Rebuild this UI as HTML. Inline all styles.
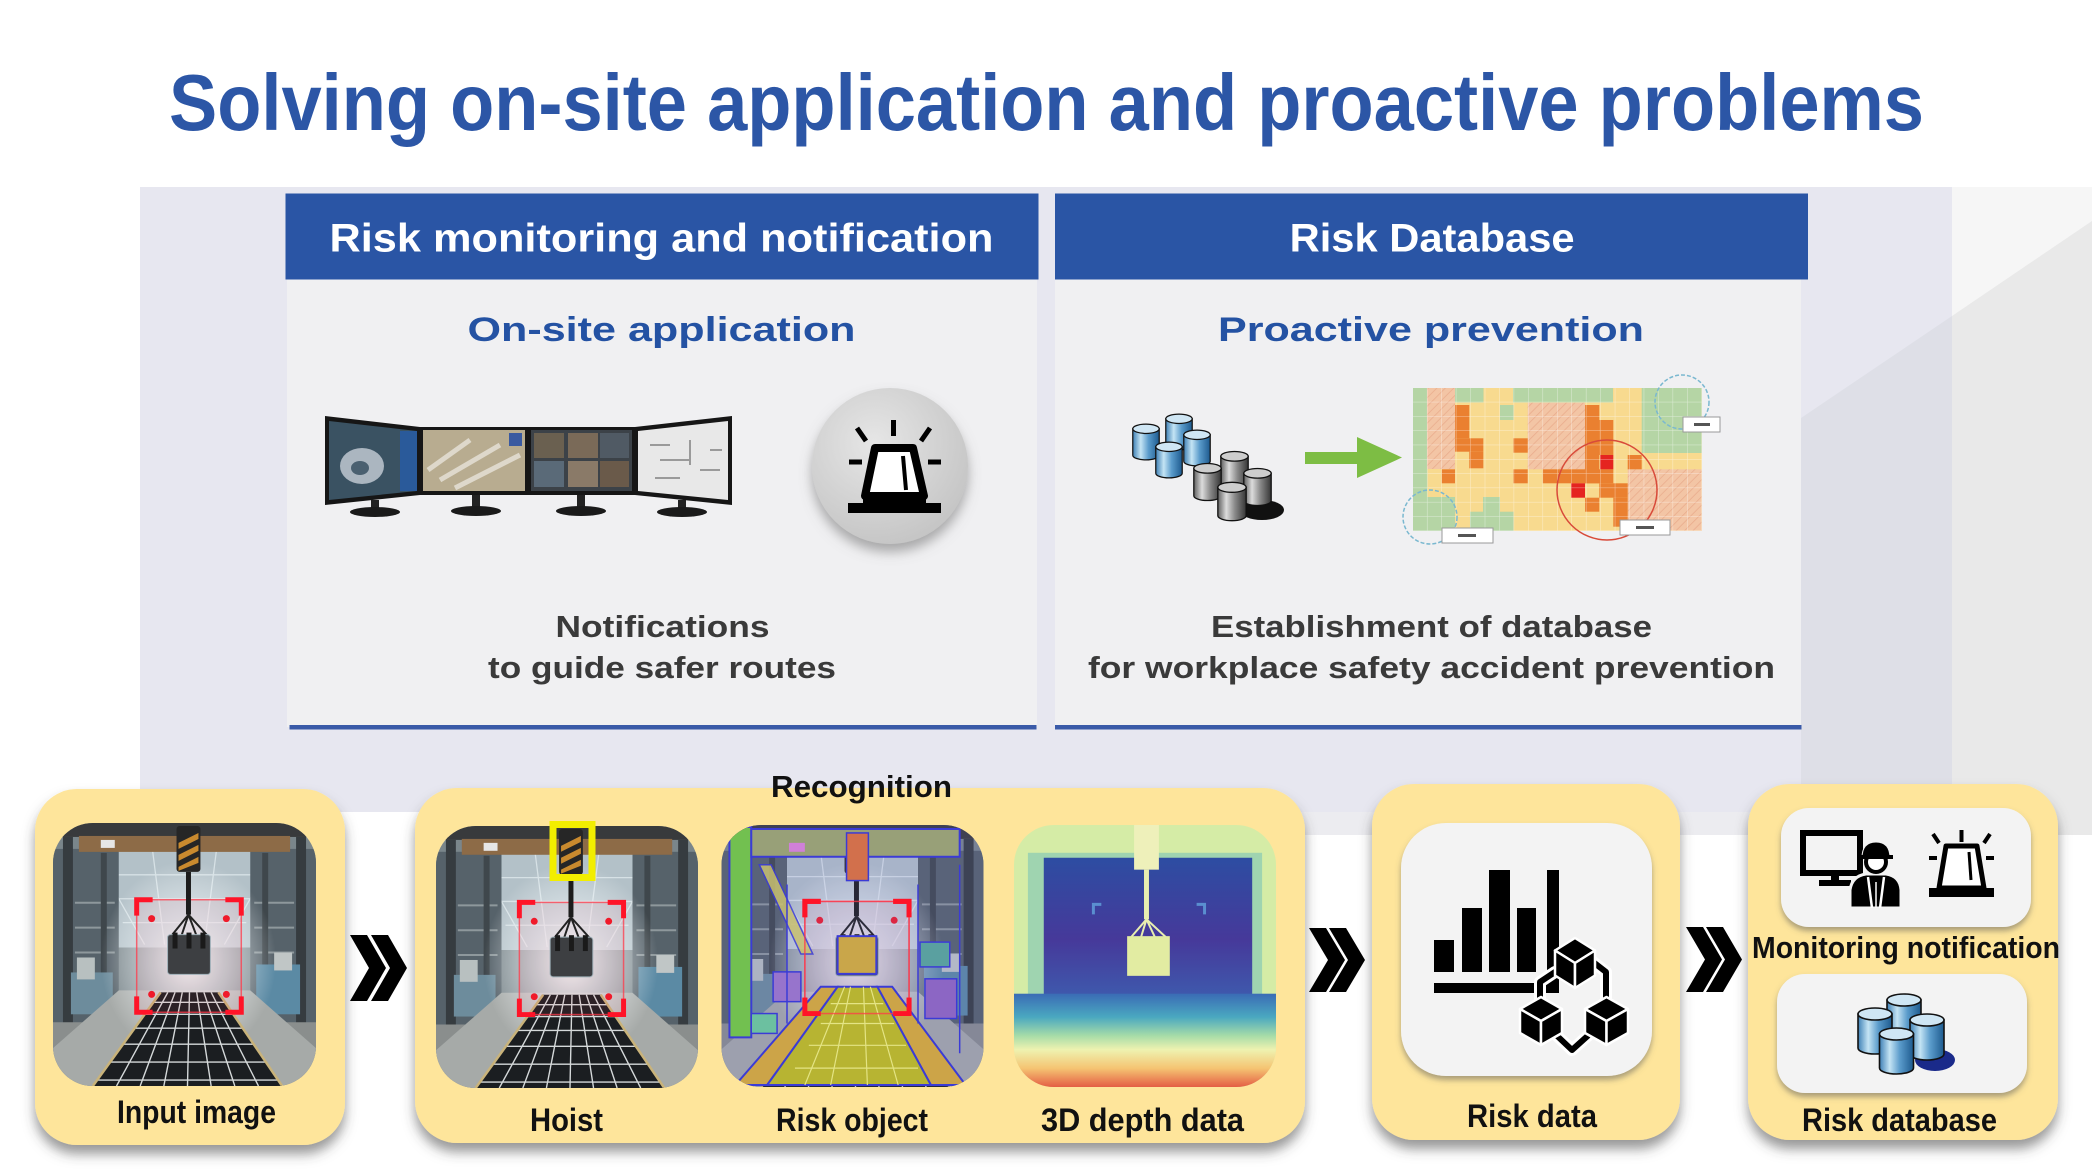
<!DOCTYPE html>
<html><head><meta charset="utf-8"><style>
html,body{margin:0;padding:0;background:#fff;}
svg{display:block;}
text{font-family:"Liberation Sans",Arial,sans-serif;font-weight:bold;}
</style></head><body>
<svg width="2092" height="1175" viewBox="0 0 2092 1175" xmlns="http://www.w3.org/2000/svg">
<defs>
<filter id="sh" x="-10%" y="-10%" width="120%" height="130%"><feDropShadow dx="0" dy="9" stdDeviation="6" flood-color="#444" flood-opacity="0.55"/></filter>
<filter id="sh2" x="-10%" y="-10%" width="120%" height="130%"><feDropShadow dx="0" dy="4" stdDeviation="3" flood-color="#555" flood-opacity="0.5"/></filter>
<filter id="sh3" x="-20%" y="-20%" width="140%" height="150%"><feDropShadow dx="0" dy="8" stdDeviation="6" flood-color="#777" flood-opacity="0.6"/></filter>
<radialGradient id="glow" cx="0.5" cy="0.5" r="0.5">
<stop offset="0" stop-color="#ffffff" stop-opacity="0.95"/>
<stop offset="0.45" stop-color="#eef6fa" stop-opacity="0.6"/>
<stop offset="1" stop-color="#ffffff" stop-opacity="0"/>
</radialGradient>
<radialGradient id="alarmg" cx="0.4" cy="0.35" r="0.7">
<stop offset="0" stop-color="#e6e6e6"/><stop offset="1" stop-color="#c4c4c4"/>
</radialGradient>
<linearGradient id="dinner" x1="0" y1="0" x2="0" y2="1">
<stop offset="0" stop-color="#2d4da2"/><stop offset="0.55" stop-color="#46399a"/><stop offset="1" stop-color="#3d5fb0"/>
</linearGradient>
<linearGradient id="dbottom" x1="0" y1="0" x2="0" y2="1">
<stop offset="0" stop-color="#3a6cb5"/><stop offset="0.25" stop-color="#4aa8c0"/><stop offset="0.45" stop-color="#a6dca8"/><stop offset="0.6" stop-color="#eef2b0"/><stop offset="0.8" stop-color="#f5c472"/><stop offset="1" stop-color="#e45e44"/>
</linearGradient>
<linearGradient id="gB" x1="0" y1="0" x2="1" y2="0">
<stop offset="0" stop-color="#3d7fb5"/><stop offset="0.3" stop-color="#c4e4f4"/><stop offset="0.6" stop-color="#5a9bcb"/><stop offset="1" stop-color="#1d5a8e"/>
</linearGradient>
<linearGradient id="gG" x1="0" y1="0" x2="1" y2="0">
<stop offset="0" stop-color="#5e5e5e"/><stop offset="0.3" stop-color="#dcdcdc"/><stop offset="0.6" stop-color="#8a8a8a"/><stop offset="1" stop-color="#353535"/>
</linearGradient>
<symbol id="cylB" viewBox="0 0 36 48"><path d="M1,7 V41 A17,6 0 0 0 35,41 V7 Z" fill="url(#gB)" stroke="#111" stroke-width="1.6"/><ellipse cx="18" cy="7" rx="17" ry="6" fill="#cfe6f4" stroke="#111" stroke-width="1.6"/></symbol>
<symbol id="cylG" viewBox="0 0 36 48"><path d="M1,7 V41 A17,6 0 0 0 35,41 V7 Z" fill="url(#gG)" stroke="#111" stroke-width="1.6"/><ellipse cx="18" cy="7" rx="17" ry="6" fill="#cdcdcd" stroke="#111" stroke-width="1.6"/></symbol>
<pattern id="hatch" width="6" height="6" patternUnits="userSpaceOnUse" patternTransform="rotate(45)"><rect width="6" height="6" fill="#f3c5a5"/><line x1="0" y1="0" x2="0" y2="6" stroke="#e9ab8c" stroke-width="1.5"/></pattern>
<pattern id="hgrid" x="1413" y="388" width="14.45" height="14.3" patternUnits="userSpaceOnUse"><path d="M14.45 0V14.3H0" fill="none" stroke="#fff" stroke-opacity=".55" stroke-width="1"/></pattern>
<clipPath id="cr"><rect width="264" height="264" rx="40"/></clipPath>

<g id="facg">
<rect width="264" height="264" fill="#7a868b"/>
<polygon points="20,28 244,28 200,125 64,125" fill="#b3c1c8"/>
<path d="M40,30 L92,122 M224,30 L172,122 M52,52 H212 M62,76 H202 M70,100 H194 M100,28 L112,122 M164,28 L152,122" stroke="#dfe8ec" stroke-width="1.3" opacity=".8" fill="none"/>
<rect x="0" y="26" width="66" height="190" fill="#56626a"/>
<rect x="198" y="26" width="66" height="190" fill="#56626a"/>
<path d="M22,80 H62 M22,105 H62 M22,130 H62 M202,80 H242 M202,105 H242 M202,130 H242" stroke="#8e989c" stroke-width="2"/>
<rect x="10" y="14" width="10" height="200" fill="#363c40"/>
<rect x="244" y="14" width="10" height="200" fill="#363c40"/>
<rect x="48" y="30" width="6" height="170" fill="#3f474c"/>
<rect x="210" y="30" width="6" height="170" fill="#3f474c"/>
<rect x="18" y="150" width="42" height="42" fill="#6d8c9c"/>
<rect x="24" y="135" width="18" height="22" fill="#b8c0c0"/>
<rect x="204" y="142" width="44" height="50" fill="#5b8aa4"/>
<rect x="222" y="130" width="18" height="18" fill="#c0c6c6"/>
<rect x="0" y="0" width="264" height="14" fill="#383a3c"/>
<rect x="26" y="13" width="212" height="16" fill="#8d6b47"/>
<rect x="48" y="17" width="14" height="8" fill="#e6e6e6"/>
<polygon points="0,200 264,200 264,264 0,264" fill="#8a8e8d"/>
<polygon points="66,168 198,168 264,226 264,264 0,264 0,226" fill="#a6aaa8"/>
<ellipse cx="136" cy="138" rx="88" ry="100" fill="url(#glow)"/>
<polygon points="108,170 166,170 230,264 40,264" fill="#1b1e21"/>
<path d="M100.8,180 H172.8 M92.1,192 H181 M82,206 H190.5 M70.4,222 H201.4 M57.4,240 H213.7 M44.3,258 H225.9 M115.25,170 L63.75,264 M122.5,170 L87.5,264 M129.75,170 L111.25,264 M137,170 L135,264 M144.25,170 L158.75,264 M151.5,170 L182.5,264 M158.75,170 L206.25,264" stroke="#d5d9da" stroke-width="1.4"/>
<path d="M108,170 L40,264 M166,170 L230,264" stroke="#c9b37a" stroke-width="2.5"/>
<rect x="84" y="77" width="105" height="113" fill="#ff5060" fill-opacity=".08" stroke="#ff3a4a" stroke-width="1.5" stroke-opacity=".75"/>
<path d="M84,93 V77 H100 M173,77 H189 V93 M84,174 V190 H100 M173,190 H189 V174" stroke="#ff1428" stroke-width="5" fill="none"/>
<circle cx="99" cy="96" r="3.5" fill="#f01a2a"/><circle cx="174" cy="96" r="3.5" fill="#f01a2a"/>
<circle cx="99" cy="172" r="3.5" fill="#f01a2a"/><circle cx="174" cy="172" r="3.5" fill="#f01a2a"/>
<rect x="124" y="3" width="24" height="46" rx="3" fill="#262626"/>
<path d="M126,20 L146,10 V16 L126,26Z M126,32 L146,22 V28 L126,38Z M126,44 L146,34 V40 L126,48Z" fill="#c98a2e"/>
<line x1="136" y1="49" x2="136" y2="92" stroke="#1c1c1c" stroke-width="5"/>
<path d="M136,92 L119,113 M136,92 L129,113 M136,92 L144,113 M136,92 L155,113" stroke="#222" stroke-width="2"/>
<rect x="115" y="112" width="43" height="40" rx="3" fill="#3d3f42" stroke="#9fb0b8" stroke-width="1"/>
<rect x="120" y="110" width="5" height="16" fill="#1a1a1a"/><rect x="134" y="110" width="5" height="16" fill="#1a1a1a"/><rect x="148" y="110" width="5" height="16" fill="#1a1a1a"/>
</g>
</defs>
<symbol id="fac" viewBox="0 0 264 264"><g clip-path="url(#cr)"><use href="#facg"/></g></symbol>
<symbol id="seg" viewBox="0 0 264 264"><g clip-path="url(#cr)">
<use href="#facg"/>
<rect width="264" height="264" fill="#6a6ad0" opacity=".15"/>
<rect x="8" y="2" width="22" height="212" fill="#72c050" stroke="#3b3bd6" stroke-width="2"/>
<rect x="30" y="4" width="210" height="28" fill="#98a078" stroke="#3b3bd6" stroke-width="2"/>
<rect x="68" y="18" width="16" height="9" fill="#d080d8"/>
<polygon points="38,40 50,40 92,130 80,130" fill="#c8c070" opacity=".85" stroke="#3b3bd6" stroke-width="1.5"/>
<rect x="126" y="8" width="22" height="48" fill="#d2704c" stroke="#3b3bd6" stroke-width="1.5"/>
<polygon points="100,163 117,163 46,262 14,262" fill="#cca448" stroke="#3b3bd6" stroke-width="2"/>
<polygon points="157,163 172,163 246,262 211,262" fill="#cca448" stroke="#3b3bd6" stroke-width="2"/>
<polygon points="117,163 157,163 211,262 46,262" fill="#b7b432" stroke="#3b3bd6" stroke-width="2"/>
<path d="M110,180 H163 M100,200 H174 M88,222 H186 M74,245 H198 M130,163 L110,262 M143,163 L147,262 M124,163 L84,262 M150,163 L178,262" stroke="#e4e484" stroke-width="1.2"/>
<rect x="117" y="112" width="39" height="38" fill="#c9a64a" stroke="#3b3bd6" stroke-width="2"/>
<rect x="52" y="148" width="28" height="30" fill="#9774cc" stroke="#3b3bd6" stroke-width="1.5"/>
<rect x="205" y="155" width="32" height="40" fill="#8c66c4" stroke="#3b3bd6" stroke-width="1.5"/>
<rect x="200" y="118" width="30" height="25" fill="#5aa0a0" stroke="#3b3bd6" stroke-width="1.5"/>
<rect x="30" y="190" width="26" height="20" fill="#6cc0a0" stroke="#3b3bd6" stroke-width="1.5"/>
<path d="M30,40 V200 M240,40 V230 M66,60 L66,200 M198,60 L198,200" stroke="#3b3bd6" stroke-width="1.5" fill="none"/>
<rect x="84" y="77" width="105" height="113" fill="none" stroke="#ff3a4a" stroke-width="1.5" stroke-opacity=".75"/>
<path d="M84,93 V77 H100 M173,77 H189 V93 M84,174 V190 H100 M173,190 H189 V174" stroke="#ff1428" stroke-width="5" fill="none"/>
</g></symbol>
<symbol id="depth" viewBox="0 0 264 264"><g clip-path="url(#cr)">
<rect width="264" height="264" fill="#d5eca6"/>
<rect x="14" y="28" width="236" height="160" fill="#7cc4b8" opacity=".6"/>
<rect x="30" y="33" width="210" height="150" fill="url(#dinner)"/>
<rect x="0" y="170" width="264" height="94" fill="url(#dbottom)"/>
<rect x="121" y="0" width="25" height="45" fill="#eef0ba"/>
<line x1="133.5" y1="45" x2="133.5" y2="95" stroke="#e8eeb0" stroke-width="5"/>
<path d="M133.5,95 L118,113 M133.5,95 L128,113 M133.5,95 L142,113 M133.5,95 L153,113" stroke="#e8eeb0" stroke-width="2"/>
<rect x="114" y="112" width="43" height="40" fill="#e2eca2"/>
<path d="M80,90 V80 H88 M184,80 H192 V90" stroke="#5a8fd0" stroke-width="3" fill="none"/>
</g></symbol>

<rect width="2092" height="1175" fill="#fff"/>

<!-- background panels -->
<rect x="1952" y="187" width="140" height="648" fill="#f6f6f6"/>
<polygon points="1952,316 2092,221 2092,835 1952,835" fill="#e9e9e9"/>
<rect x="1290" y="800" width="662" height="35" fill="#ececf0"/>
<rect x="140" y="187" width="1812" height="625" fill="#e7e7f0"/>
<polygon points="1801,418 1952,316 1952,812 1801,812" fill="#dedfe7"/>

<!-- title -->
<text x="169" y="130" font-size="80" fill="#2c56a6" textLength="1755" lengthAdjust="spacingAndGlyphs">Solving on-site application and proactive problems</text>

<!-- left card -->
<rect x="287" y="279" width="750" height="448" fill="#f0f0f2"/>
<rect x="285.5" y="193.5" width="753" height="86" fill="#2a55a5"/>
<rect x="289.5" y="725" width="747" height="4.5" fill="#3a5aa8"/>
<text x="329.5" y="251.4" font-size="40" fill="#fff" textLength="664" lengthAdjust="spacingAndGlyphs">Risk monitoring and notification</text>
<text x="467.5" y="341" font-size="34" fill="#2452a3" textLength="388" lengthAdjust="spacingAndGlyphs">On-site application</text>
<text x="555.5" y="637" font-size="31" fill="#3a3a3a" textLength="214" lengthAdjust="spacingAndGlyphs">Notifications</text>
<text x="488" y="678" font-size="31" fill="#3a3a3a" textLength="348" lengthAdjust="spacingAndGlyphs">to guide safer routes</text>

<!-- monitors -->
<g>
<polygon points="325,416 420,427 420,495 325,505" fill="#161616"/>
<polygon points="329,421 417,431 417,491 329,500" fill="#3a5262"/>
<ellipse cx="362" cy="466" rx="22" ry="18" fill="#c8d0d8" opacity=".8"/>
<ellipse cx="360" cy="468" rx="9" ry="7" fill="#4a6070"/>
<rect x="400" y="431" width="17" height="60" fill="#2a5a9a"/>
<rect x="420" y="427" width="108" height="68" fill="#161616"/>
<rect x="423" y="430" width="102" height="61" fill="#b8ac90"/>
<path d="M428,470 L470,440 M440,480 L500,445 M455,488 L520,455" stroke="#e8e4da" stroke-width="5" opacity=".8"/>
<rect x="509" y="433" width="13" height="13" fill="#3a5aa0"/>
<rect x="528" y="427" width="107" height="68" fill="#161616"/>
<rect x="531" y="430" width="101" height="61" fill="#3c4248"/>
<rect x="534" y="433" width="30" height="25" fill="#6a6050"/><rect x="568" y="433" width="30" height="25" fill="#7a6a58"/><rect x="600" y="433" width="29" height="25" fill="#505a64"/>
<rect x="534" y="461" width="30" height="26" fill="#5a6a78"/><rect x="568" y="461" width="30" height="26" fill="#8a7a68"/><rect x="600" y="461" width="29" height="26" fill="#6a5a4a"/>
<polygon points="635,427 732,416 732,505 635,495" fill="#161616"/>
<polygon points="638,431 728,421 728,500 638,491" fill="#e8e8e8"/>
<path d="M650,445 h20 M660,460 h30 M690,440 v25 M700,470 h20 M655,478 h25 M710,450 h12" stroke="#9a9a9a" stroke-width="2"/>
<rect x="371" y="500" width="8" height="10" fill="#222"/><ellipse cx="375" cy="512" rx="25" ry="5" fill="#1a1a1a"/>
<rect x="472" y="495" width="8" height="13" fill="#222"/><ellipse cx="476" cy="511" rx="25" ry="5" fill="#1a1a1a"/>
<rect x="577" y="495" width="8" height="13" fill="#222"/><ellipse cx="581" cy="511" rx="25" ry="5" fill="#1a1a1a"/>
<rect x="678" y="500" width="8" height="10" fill="#222"/><ellipse cx="682" cy="512" rx="25" ry="5" fill="#1a1a1a"/>
</g>

<!-- alarm circle -->
<circle cx="890" cy="466" r="78" fill="url(#alarmg)" filter="url(#sh3)"/>
<rect x="848" y="503" width="93" height="10" fill="#000"/>
<rect x="863" y="496" width="63" height="8" fill="#000"/>
<path d="M875,448 H913 L924,496 H865 Z" fill="#fff" stroke="#000" stroke-width="8" stroke-linejoin="round"/>
<line x1="903" y1="456" x2="906" y2="490" stroke="#000" stroke-width="4"/>
<path d="M893.5,420 V436 M857,428 L866,441 M930,428 L921,441 M849,462 H862 M928,462 H941" stroke="#000" stroke-width="5"/>

<!-- right card -->
<rect x="1055" y="279" width="746" height="448" fill="#f0f0f2"/>
<rect x="1055" y="193.5" width="753" height="86" fill="#2a55a5"/>
<rect x="1055" y="725" width="746.5" height="4.5" fill="#3a5aa8"/>
<text x="1289.6" y="251.4" font-size="40" fill="#fff" textLength="285" lengthAdjust="spacingAndGlyphs">Risk Database</text>
<text x="1218" y="341" font-size="34" fill="#2452a3" textLength="426" lengthAdjust="spacingAndGlyphs">Proactive prevention</text>
<text x="1211" y="637" font-size="31" fill="#3a3a3a" textLength="441" lengthAdjust="spacingAndGlyphs">Establishment of database</text>
<text x="1088" y="678" font-size="31" fill="#3a3a3a" textLength="687" lengthAdjust="spacingAndGlyphs">for workplace safety accident prevention</text>

<!-- DB clusters -->
<use href="#cylB" x="1165" y="412" width="28" height="40"/>
<use href="#cylB" x="1132" y="422" width="28" height="40"/>
<use href="#cylB" x="1183" y="428" width="28" height="40"/>
<use href="#cylB" x="1155" y="440" width="28" height="40"/>
<ellipse cx="1262" cy="510" rx="22" ry="10" fill="#111"/>
<use href="#cylG" x="1220" y="450" width="29" height="40"/>
<use href="#cylG" x="1193" y="462" width="29" height="40"/>
<use href="#cylG" x="1243" y="467" width="29" height="40"/>
<use href="#cylG" x="1217" y="480" width="30" height="43"/>
<polygon points="1305,452 1357,452 1357,437 1402,457.5 1357,478 1357,464 1305,464" fill="#7dbd44"/>

<!-- heatmap -->
<g>
<rect x="1413" y="388" width="289" height="143" fill="#f8da8f"/>
<g fill="#b5d5a5">
<rect x="1413" y="388" width="14.5" height="143"/>
<rect x="1413" y="497" width="42" height="34"/>
<rect x="1455" y="388" width="28.5" height="14.5"/>
<rect x="1500" y="405" width="13.5" height="15"/>
<rect x="1513" y="388" width="100" height="14.5"/>
<rect x="1641.7" y="388" width="60" height="65"/>
<rect x="1470" y="511.7" width="43.5" height="19.3"/>
<rect x="1483" y="497" width="17" height="15"/>
</g>
<g fill="url(#hatch)">
<rect x="1427" y="388" width="28" height="81"/>
<rect x="1527.7" y="402.7" width="57.3" height="66.6"/>
<rect x="1627.7" y="469.3" width="74" height="61.4"/>
</g>
<g fill="#ea8030">
<rect x="1455" y="405" width="14.3" height="33.3"/>
<rect x="1455" y="438.3" width="28.3" height="13.4"/>
<rect x="1469.3" y="451.7" width="14" height="16.6"/>
<rect x="1441.7" y="469.3" width="13.3" height="14"/>
<rect x="1513.3" y="438.3" width="14.4" height="14.4"/>
<rect x="1513.3" y="469.3" width="14.4" height="14"/>
<rect x="1585" y="405" width="14.3" height="78.3"/>
<rect x="1599.3" y="420" width="14" height="35"/>
<rect x="1542.7" y="469.3" width="70.6" height="14"/>
<rect x="1627.7" y="455" width="14" height="14.3"/>
<rect x="1599.3" y="483.3" width="28.4" height="14.4"/>
<rect x="1613.3" y="497.7" width="14.4" height="29"/>
<rect x="1585" y="497.7" width="14.3" height="14"/>
</g>
<rect x="1600" y="455" width="13.3" height="14.3" fill="#e52420"/>
<rect x="1571" y="483.3" width="14" height="14.4" fill="#e52420"/>
<rect x="1413" y="388" width="289" height="143" fill="url(#hgrid)"/>
<circle cx="1682" cy="402" r="27" fill="none" stroke="#7ab8d0" stroke-width="1.5" stroke-dasharray="4 2"/>
<circle cx="1430" cy="517" r="27" fill="none" stroke="#7ab8d0" stroke-width="1.5" stroke-dasharray="4 2"/>
<circle cx="1607" cy="490" r="50" fill="none" stroke="#d84a3a" stroke-width="1.5"/>
<rect x="1683" y="417" width="37" height="15" fill="#fff" stroke="#999" stroke-width="1"/>
<rect x="1694" y="423" width="16" height="3" fill="#555"/>
<rect x="1442" y="528" width="51" height="15" fill="#fff" stroke="#999" stroke-width="1"/>
<rect x="1458" y="534" width="18" height="3" fill="#555"/>
<rect x="1620" y="520" width="50" height="15" fill="#fff" stroke="#999" stroke-width="1"/>
<rect x="1636" y="526" width="18" height="3" fill="#555"/>
</g>

<!-- bottom yellow boxes -->
<g fill="#fee59b" filter="url(#sh)">
<rect x="35" y="789" width="310" height="356" rx="42"/>
<rect x="415" y="788" width="890" height="355" rx="42"/>
<rect x="1372" y="784" width="308" height="356" rx="42"/>
<rect x="1748" y="784" width="310" height="356" rx="42"/>
</g>

<!-- images -->
<use href="#fac" x="53" y="823" width="263" height="263"/>
<use href="#fac" x="435" y="826" width="264" height="262"/>
<rect x="553" y="824.5" width="39" height="53" fill="none" stroke="#f2ee00" stroke-width="7"/>
<use href="#seg" x="721" y="825" width="263" height="262"/>
<use href="#depth" x="1014" y="825" width="262" height="262"/>

<!-- chevrons -->
<g fill="#000">
<polygon points="350,935 367,935 386,968 367,1001 350,1001 369,968"/>
<polygon points="371,935 388,935 407,968 388,1001 371,1001 390,968"/>
<polygon points="1309,928 1326,928 1345,960 1326,992 1309,992 1328,960"/>
<polygon points="1329,928 1346,928 1365,960 1346,992 1329,992 1348,960"/>
<polygon points="1686,927 1703,927 1722,959.5 1703,992 1686,992 1705,959.5"/>
<polygon points="1706,927 1723,927 1742,959.5 1723,992 1706,992 1725,959.5"/>
</g>

<!-- inner white boxes -->
<g fill="#f3f3f3" filter="url(#sh2)">
<rect x="1401" y="823" width="251" height="253" rx="45"/>
<rect x="1781" y="808" width="250" height="119" rx="28"/>
<rect x="1777" y="974" width="250" height="119" rx="28"/>
</g>

<!-- risk data icon -->
<g fill="#000">
<rect x="1434" y="940" width="20" height="32"/>
<rect x="1462" y="908" width="20" height="64"/>
<rect x="1489" y="870" width="21" height="102"/>
<rect x="1517" y="908" width="19" height="64"/>
<rect x="1547" y="870" width="12" height="123"/>
<rect x="1434" y="983" width="125" height="10"/>
</g>
<g fill="none" stroke-linecap="round" stroke-linejoin="round">
<path d="M1555,972 L1540,982 L1540,998 M1588,958 L1606,972 L1606,998 M1553,1032 L1572,1050 L1592,1032" stroke="#fff" stroke-width="12"/>
<path d="M1555,972 L1540,982 L1540,998 M1588,958 L1606,972 L1606,998 M1553,1032 L1572,1050 L1592,1032" stroke="#000" stroke-width="6"/>
</g>
<g fill="#000" stroke="#fff" stroke-width="2.5" stroke-linejoin="round">
<polygon points="1575,938 1595,950.5 1575,963 1555,950.5"/>
<polygon points="1555,950.5 1575,963 1575,988 1555,975.5"/>
<polygon points="1575,963 1595,950.5 1595,975.5 1575,988"/>
<polygon points="1541,997 1562,1009 1541,1021 1520,1009"/>
<polygon points="1520,1009 1541,1021 1541,1045 1520,1033"/>
<polygon points="1541,1021 1562,1009 1562,1033 1541,1045"/>
<polygon points="1606.5,997 1628,1009 1606.5,1021 1585,1009"/>
<polygon points="1585,1009 1606.5,1021 1606.5,1045 1585,1033"/>
<polygon points="1606.5,1021 1628,1009 1628,1033 1606.5,1045"/>
</g>

<!-- monitoring icon -->
<rect x="1803" y="833" width="57" height="40" fill="none" stroke="#000" stroke-width="6"/>
<rect x="1831" y="876" width="8" height="6" fill="#000"/>
<rect x="1819" y="880" width="32" height="6" fill="#000"/>
<path d="M1850,908 V890 Q1852,876 1866,874 L1886,874 Q1900,876 1901,890 V908 Z" fill="#000" stroke="#f3f3f3" stroke-width="3"/>
<path d="M1868,877 L1872,908 M1884,877 L1880,908" stroke="#fff" stroke-width="2.5"/>
<line x1="1876" y1="882" x2="1876" y2="908" stroke="#fff" stroke-width="1.5"/>
<circle cx="1876" cy="862" r="10" fill="#fff" stroke="#000" stroke-width="4"/>
<path d="M1862,858 Q1862,842 1876,842 Q1890,842 1890,858 Z" fill="#000" stroke="#f3f3f3" stroke-width="1"/>
<rect x="1859" y="855" width="34" height="4" fill="#000"/>
<rect x="1929" y="888" width="65" height="9" fill="#000"/>
<path d="M1946,846 H1977 L1984,888 H1939 Z" fill="#fff" stroke="#000" stroke-width="5" stroke-linejoin="round"/>
<line x1="1969" y1="852" x2="1971" y2="880" stroke="#000" stroke-width="3"/>
<path d="M1961.5,830 V842 M1933,834 L1939,843 M1990,834 L1984,843 M1929,858 H1937 M1986,858 H1994" stroke="#000" stroke-width="4"/>

<!-- risk database icon -->
<ellipse cx="1935" cy="1060" rx="20" ry="11" fill="#1a2a8a"/>
<use href="#cylB" x="1886" y="993" width="36" height="48"/>
<use href="#cylB" x="1857" y="1007" width="36" height="48"/>
<use href="#cylB" x="1909" y="1013" width="36" height="48"/>
<use href="#cylB" x="1878" y="1027" width="37" height="48"/>

<!-- bottom labels -->
<g fill="#111">
<text x="771" y="797" font-size="31" textLength="181" lengthAdjust="spacingAndGlyphs">Recognition</text>
<text x="117" y="1123" font-size="32" textLength="159" lengthAdjust="spacingAndGlyphs">Input image</text>
<text x="530" y="1131" font-size="32" textLength="73" lengthAdjust="spacingAndGlyphs">Hoist</text>
<text x="776" y="1131" font-size="32" textLength="152" lengthAdjust="spacingAndGlyphs">Risk object</text>
<text x="1041" y="1131" font-size="32" textLength="203" lengthAdjust="spacingAndGlyphs">3D depth data</text>
<text x="1467" y="1127" font-size="32" textLength="130" lengthAdjust="spacingAndGlyphs">Risk data</text>
<text x="1752" y="958" font-size="31" textLength="308" lengthAdjust="spacingAndGlyphs">Monitoring notification</text>
<text x="1802" y="1131" font-size="32" textLength="195" lengthAdjust="spacingAndGlyphs">Risk database</text>
</g>
</svg>
</body></html>
